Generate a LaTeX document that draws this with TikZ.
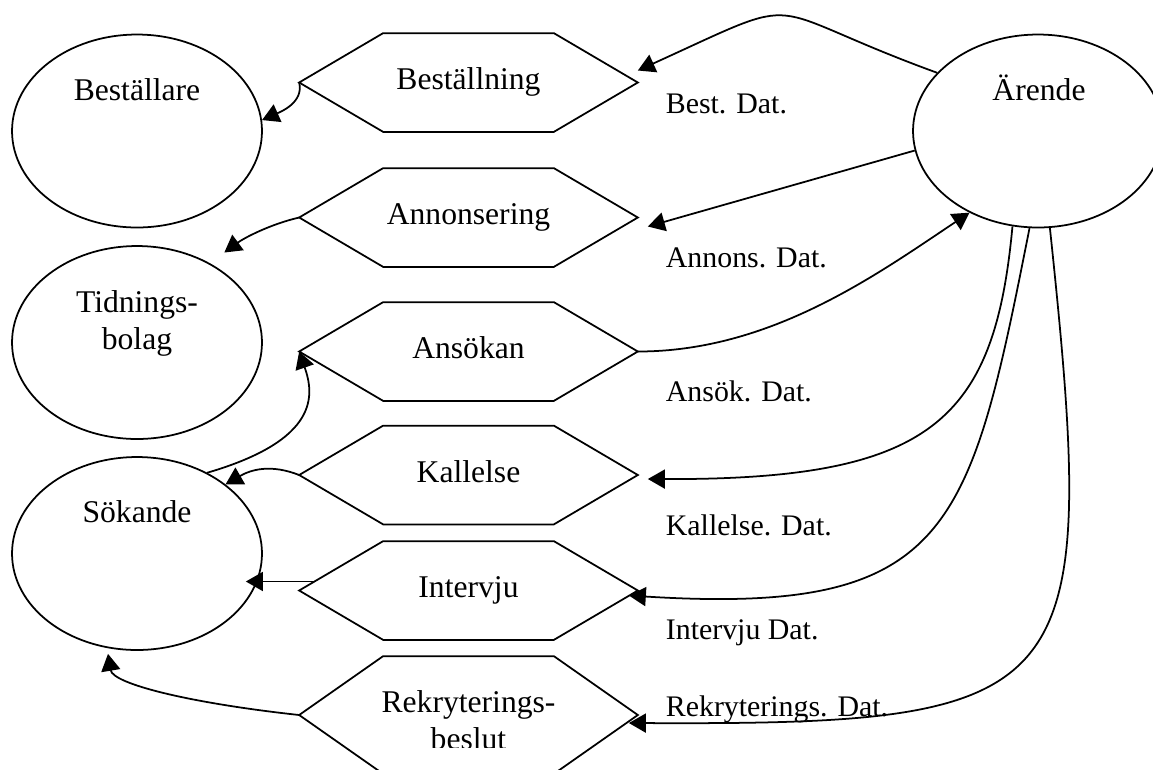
\documentclass[tikz,border=0pt]{standalone}
\usepackage{fontspec}
\setmainfont{Liberation Serif}
\usetikzlibrary{shapes.geometric,arrows.meta}

\tikzstyle{ent} = [ellipse, draw, minimum width=5cm, minimum height=3.86cm]
\tikzstyle{proc} = [rectangle, minimum width=6.74cm, minimum height=1.94cm, text height=12.6pt, text depth=4.5pt]
\tikzstyle{txt} = [anchor=base, align=center]
\tikzstyle{lbl} = [anchor=base west, font=\fontsize{17}{20}\selectfont]
\tikzstyle{arr} = [-{Triangle[length=0.34cm,width=0.38cm]}]
\tikzstyle{every node}=[font=\fontsize{18}{21}\selectfont, inner sep=0pt]

\newcommand{\hexa}[1]{\draw ([xshift=1.68cm]#1.north west) -- ([xshift=-1.68cm]#1.north east) -- (#1.east) -- ([xshift=-1.68cm]#1.south east) -- ([xshift=1.68cm]#1.south west) -- (#1.west) -- cycle;}

\begin{document}
\begin{tikzpicture}[x=0.02cm, y=-0.02cm, line width=1pt]
  \useasboundingbox (0,0) rectangle (1153,769);
  \clip (0,0) rectangle (1153,769);

  \node[ent] (bestr) at (137,131) {};
  \node[ent] (tidn) at (137,342.5) {};
  \node[ent] (sok) at (137,553.5) {};
  \node[ent] (arende) at (1038,131) {};
  \node[txt] (bestr-t) at (137,100) {Beställare};
  \node[txt, anchor=center] (tidn-t) at (137,323) {Tidnings-\\bolag};
  \node[txt] (sok-t) at (137,522) {Sökande};
  \node[txt] (arende-t) at (1039,100) {Ärende};

  \node[proc] (bestn) at (468.5,82.5) {Beställning};
  \node[proc] (annon) at (468.5,217.5) {Annonsering};
  \node[proc] (ansok) at (468.5,351.5) {Ansökan};
  \node[proc] (kall) at (468.5,475) {Kallelse};
  \node[proc] (intv) at (468.5,590.5) {Intervju};
  \node[proc, minimum height=2.32cm] (rekr) at (468.5,715) {};
  \hexa{bestn}
  \hexa{annon}
  \hexa{ansok}
  \hexa{kall}
  \hexa{intv}
  \hexa{rekr}
  \begin{scope}
    \clip (300,650) rectangle (640,747);
    \node[txt, anchor=center] (rekr-t) at (468.5,720) {Rekryterings-\\beslut};
  \end{scope}

  \node[lbl] (l-best) at (665,113) {Best. Dat.};
  \node[lbl] (l-annon) at (665,267) {Annons. Dat.};
  \node[lbl] (l-ansok) at (665,401) {Ansök. Dat.};
  \node[lbl] (l-kall) at (665,535) {Kallelse. Dat.};
  \node[lbl] (l-intv) at (665,639) {Intervju Dat.};
  \node[lbl] (l-rekr) at (665,716) {Rekryterings. Dat.};

  \coordinate (intv-out) at ([shift={(16,-9)}]intv.west);

  \draw[arr] (arende.150) .. controls +(-184,-67) and +(176,-80) .. ([yshift=0.24cm]bestn.east);
  \draw[arr] (bestn.west) .. controls +(5,20) and +(18,-8) .. (bestr.5);
  \draw[arr] (arende.189) -- ([shift={(10,9)}]annon.east);
  \draw[arr] (annon.west) .. controls +(-30,7) and +(19,-14) .. ([shift={(12,-12)}]tidn.46);
  \draw[arr] (ansok.east) .. controls +(133,0) and +(-93,62) .. (arende.230);
  \draw[arr] (sok.49) .. controls +(113,-33) and +(15,43) .. (ansok.west);
  \draw[arr] (kall.west) .. controls +(-28,-11) and +(26,-15) .. (sok.38);
  \draw[arr] (arende.255) .. controls +(-18,195) and +(283,1) .. ([shift={(10,4)}]kall.east);
  \draw[arr] (intv-out) -- ([xshift=-0.34cm]sok.east |- intv-out);
  \draw[arr] (arende.265) .. controls +(-60,303) and +(322,20) .. ([shift={(-9,5)}]intv.east);
  \draw[arr] (rekr.west) .. controls +(-110,-12) and +(5,30) .. ([shift={(-29,3)}]sok.south);
  \draw[arr] (arende.277) .. controls +(50,473) and +(452,2) .. ([shift={(-9,8)}]rekr.east);
\end{tikzpicture}
\end{document}
